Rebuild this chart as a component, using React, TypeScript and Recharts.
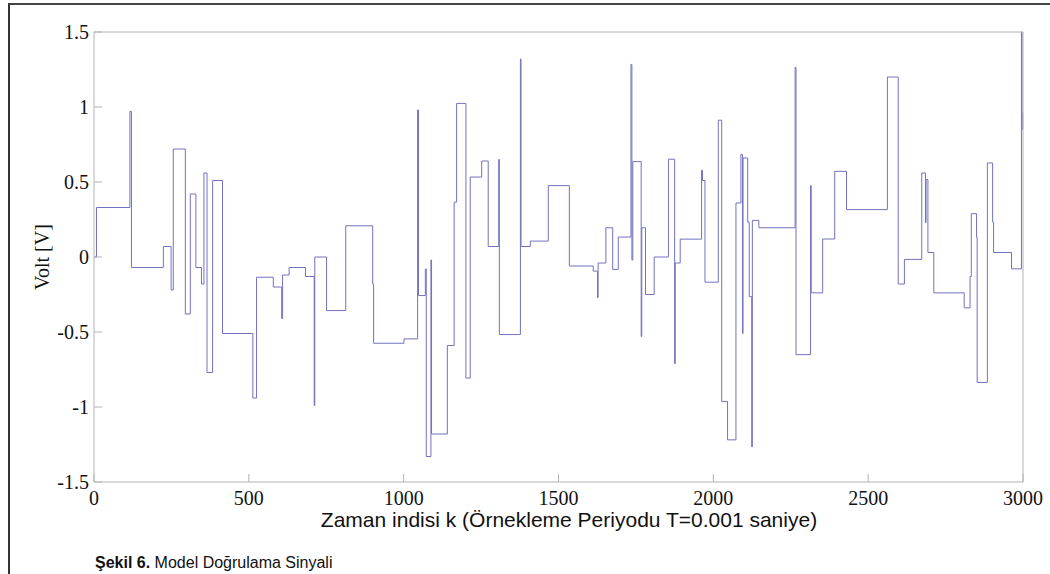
import React from 'react';
import { LineChart, Line, XAxis, YAxis } from 'recharts';

// step start index k and held level (V)
const stepK = [
  0, 8, 116, 121, 224, 249, 256, 295, 311, 329, 347, 355, 365, 383, 415, 513, 525, 579, 606, 609,
  630, 683, 711, 713, 751, 813, 900, 903, 1001, 1045, 1048, 1070, 1073, 1088, 1090, 1141, 1163, 1171,
  1201, 1215, 1252, 1273, 1307, 1309, 1377, 1379, 1409, 1467, 1535, 1612, 1626, 1628, 1653, 1675,
  1693, 1734, 1737, 1740, 1767, 1769, 1781, 1809, 1855, 1875, 1877, 1893, 1962, 1965, 1973, 2016,
  2027, 2046, 2073, 2089, 2094, 2096, 2111, 2116, 2124, 2126, 2147, 2264, 2267, 2314, 2316, 2353,
  2392, 2430, 2562, 2597, 2617, 2673, 2685, 2687, 2693, 2712, 2810, 2829, 2833, 2850, 2852, 2885,
  2902, 2905, 2963, 2995, 2997, 2999, 3000,
];
const stepV = [
  0, 0.33, 0.97, -0.07, 0.07, -0.22, 0.72, -0.38, 0.42, -0.07, -0.18, 0.56, -0.77, 0.51, -0.51, -0.94, -0.135, -0.2, -0.41, -0.12,
  -0.07, -0.13, -0.99, 0.0, -0.357, 0.208, -0.18, -0.575, -0.546, 0.98, -0.257, -0.08, -1.33, -0.02, -1.18, -0.59, 0.366, 1.024,
  -0.807, 0.533, 0.64, 0.07, 0.65, -0.517, 1.32, 0.07, 0.106, 0.476, -0.06, -0.094, -0.27, -0.04, 0.195, -0.083,
  0.133, 1.284, -0.02, 0.636, -0.53, 0.195, -0.25, 0.0, 0.652, -0.71, -0.04, 0.119, 0.578, 0.51, -0.168, 0.912,
  -0.963, -1.219, 0.36, 0.683, -0.51, 0.66, 0.233, -0.264, -1.266, 0.244, 0.195, 1.264, -0.651, 0.476, -0.239, 0.12,
  0.571, 0.316, 1.2, -0.18, -0.016, 0.56, 0.23, 0.516, 0.03, -0.239, -0.339, -0.13, 0.289, 0.13, -0.836, 0.627,
  0.233, 0.03, -0.079, 1.5, 0.96, 0.85, 0.85,
];
const xTicks = [0, 500, 1000, 1500, 2000, 2500, 3000];
const yTicks = [-1.5, -1, -0.5, 0, 0.5, 1, 1.5];

const data = stepK.map((k, i) => ({ k, v: stepV[i] }));

const boxColor = '#b4b4b4';
const tickFont = { fill: '#111', fontSize: 20, fontFamily: 'Liberation Serif, Times New Roman, serif' };

export default function App() {
  return (
    <div style={{ position: 'absolute', left: 0, top: 0, width: 1050, height: 574, background: '#fff', overflow: 'hidden' }}>
      <div style={{ position: 'absolute', left: 8, top: 3, width: 1100, height: 600, borderLeft: '2px solid #333', borderTop: '2px solid #444' }} />
      <LineChart width={1050} height={574} data={data} margin={{ top: 31, right: 26, bottom: 91, left: 93 }}>
        <XAxis
          dataKey="k"
          type="number"
          domain={[0, 3000]}
          ticks={xTicks}
          height={1}
          tickSize={-8}
          tickMargin={17}
          stroke={boxColor}
          tick={tickFont}
          interval={0}
        />
        <XAxis xAxisId="top" dataKey="k" orientation="top" type="number" domain={[0, 3000]} ticks={xTicks} height={1} tickSize={-8} tick={false} stroke={boxColor} interval={0} />
        <YAxis
          type="number"
          domain={[-1.5, 1.5]}
          ticks={yTicks}
          width={1}
          tickSize={-8}
          tickMargin={13}
          stroke={boxColor}
          tick={tickFont}
          interval={0}
          tickFormatter={(v: number) => String(v)}
        />
        <YAxis yAxisId="right" orientation="right" type="number" domain={[-1.5, 1.5]} ticks={yTicks} width={1} tickSize={-8} tick={false} stroke={boxColor} interval={0} />
        <Line type="stepAfter" dataKey="v" stroke="#7272c0" strokeWidth={1} dot={false} isAnimationActive={false} />
      </LineChart>
      <div style={{ position: 'absolute', left: 42, top: 257, transform: 'translate(-50%, -50%) rotate(-90deg)', fontFamily: 'Liberation Serif, serif', fontSize: 20, color: '#111', whiteSpace: 'nowrap' }}>
        Volt [V]
      </div>
      <div style={{ position: 'absolute', left: 569, top: 520, transform: 'translate(-50%, -50%)', fontFamily: 'Liberation Sans, Arial, sans-serif', fontSize: 21, color: '#111', whiteSpace: 'nowrap' }}>
        Zaman indisi k (Örnekleme Periyodu T=0.001 saniye)
      </div>
      <div style={{ position: 'absolute', left: 95, top: 563, transform: 'translateY(-50%)', fontFamily: 'Liberation Sans, Arial, sans-serif', fontSize: 16, color: '#111', whiteSpace: 'nowrap' }}>
        <b>Şekil 6.</b> Model Doğrulama Sinyali
      </div>
    </div>
  );
}
